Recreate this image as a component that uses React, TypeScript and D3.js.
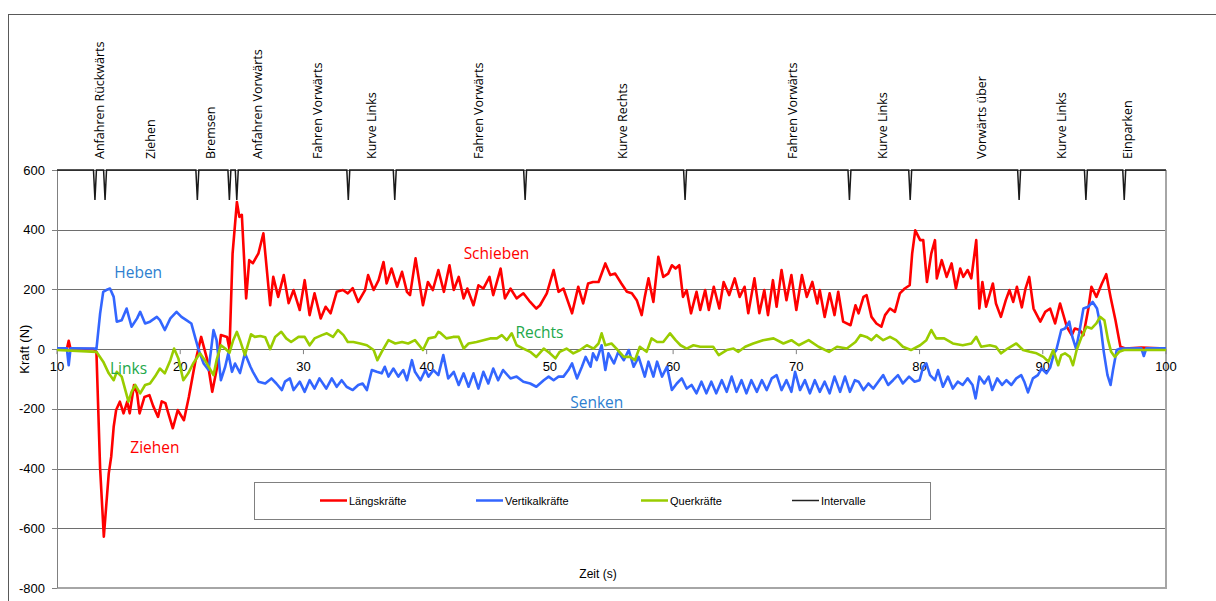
import React from "react";
import * as d3 from "d3";

// Zeit (s) / Kraft (N) readings per series
const laengskraefte: [number, number][] = [
  [10, 0], [10.8, 0], [10.95, 28], [11.1, 0], [13.0, 0], [13.2, -10], [13.5, -400], [13.8, -628],
  [14.2, -416], [14.4, -360], [14.6, -260], [14.8, -204], [15.1, -176], [15.4, -215], [15.7, -176],
  [15.9, -215], [16.25, -120], [16.5, -148], [16.7, -215], [17.1, -160], [17.5, -154], [17.8, -190],
  [18.2, -227], [18.5, -175], [18.8, -181], [19.0, -210], [19.4, -265], [19.8, -204], [20.3, -238],
  [20.7, -160], [21.2, -47], [21.7, 41], [22.2, -37], [22.6, -143], [23.0, -59], [23.3, 47],
  [23.8, 41], [24.0, 0], [24.25, 321], [24.6, 493], [24.8, 443], [25.0, 450], [25.35, 170],
  [25.6, 298], [25.9, 288], [26.35, 321], [26.75, 388], [27.3, 147], [27.55, 242], [27.95, 175],
  [28.4, 248], [28.8, 154], [29.2, 198], [29.7, 131], [30.1, 231], [30.5, 114], [30.9, 187],
  [31.4, 103], [31.8, 142], [32.2, 120], [32.7, 192], [33.2, 198], [33.6, 187], [34.0, 204],
  [34.45, 158], [35.0, 198], [35.25, 248], [35.7, 198], [36.1, 231], [36.5, 292], [36.75, 220],
  [37.15, 270], [37.6, 209], [38.0, 259], [38.4, 192], [38.65, 181], [39.1, 304], [39.7, 147],
  [40.1, 225], [40.5, 198], [40.95, 265], [41.4, 192], [41.85, 281], [42.2, 198], [42.6, 242],
  [43.0, 170], [43.3, 203], [43.8, 147], [44.2, 214], [44.6, 203], [45.1, 242], [45.4, 181],
  [46.0, 270], [46.35, 170], [46.8, 203], [47.3, 170], [47.85, 187], [48.4, 158], [48.9, 136],
  [49.2, 147], [49.75, 187], [50.3, 265], [50.7, 192], [51.1, 203], [51.8, 120], [52.3, 209],
  [52.7, 153], [53.1, 220], [53.5, 225], [53.95, 225], [54.5, 287], [54.9, 248], [55.3, 253],
  [55.8, 220], [56.25, 192], [56.65, 187], [57.05, 164], [57.45, 114], [57.7, 175], [58.0, 237],
  [58.4, 158], [58.8, 309], [59.2, 242], [59.6, 253], [59.9, 281], [60.2, 270], [60.5, 281],
  [60.8, 175], [61.1, 198], [61.45, 120], [61.9, 192], [62.2, 131], [62.6, 198], [62.9, 131],
  [63.3, 209], [63.75, 136], [64.1, 225], [64.55, 181], [65.0, 237], [65.4, 175], [65.8, 209],
  [66.1, 120], [66.6, 237], [67.0, 120], [67.4, 198], [67.7, 114], [68.1, 231], [68.4, 142],
  [68.8, 265], [69.2, 164], [69.6, 248], [70.0, 131], [70.45, 248], [70.85, 175], [71.3, 225],
  [71.7, 153], [71.9, 198], [72.3, 108], [72.7, 187], [73.1, 114], [73.4, 192], [73.8, 92],
  [74.4, 80], [74.8, 147], [75.05, 120], [75.45, 175], [75.7, 181], [76.1, 108], [76.5, 86],
  [76.9, 75], [77.2, 114], [77.6, 136], [78.0, 125], [78.4, 187], [78.8, 203], [79.2, 214],
  [79.4, 320], [79.65, 398], [80.05, 365], [80.3, 365], [80.6, 225], [80.95, 320], [81.25, 365],
  [81.4, 237], [81.8, 298], [82.2, 242], [82.6, 287], [82.95, 203], [83.3, 270], [83.55, 242],
  [83.9, 265], [84.2, 237], [84.6, 365], [84.85, 136], [85.1, 225], [85.4, 142], [85.95, 220],
  [86.2, 153], [86.6, 108], [87.0, 164], [87.3, 198], [87.6, 158], [87.9, 209], [88.3, 140],
  [88.6, 203], [88.9, 242], [89.25, 136], [89.8, 92], [90.2, 125], [90.6, 136], [91.0, 86],
  [91.4, 153], [91.95, 75], [92.35, 47], [92.6, 69], [93.0, 64], [93.3, 47], [93.7, 136],
  [93.95, 209], [94.35, 175], [94.8, 220], [95.15, 251], [95.5, 175], [95.9, 97], [96.3, 8],
  [96.7, 2], [98, 5], [100, 2],
];

const vertikalkraefte: [number, number][] = [
  [10, 3], [10.8, 3], [10.95, -54], [11.1, 3], [13.0, 2], [13.2, 0], [13.5, 120], [13.75, 192],
  [14.0, 198], [14.3, 203], [14.6, 175], [14.85, 92], [15.25, 97], [15.65, 136], [16.05, 75],
  [16.5, 103], [16.75, 125], [17.15, 86], [17.55, 92], [18.1, 108], [18.35, 97], [18.75, 64],
  [19.2, 103], [19.7, 125], [20.1, 108], [20.5, 97], [20.9, 86], [21.2, 41], [21.5, -3],
  [21.9, -48], [22.3, -70], [22.7, 64], [22.95, 30], [23.3, -104], [23.65, -59], [23.9, -14],
  [24.2, -76], [24.45, -48], [24.85, -80], [25.25, -14], [25.7, -59], [25.9, -76], [26.35, -109],
  [26.9, -115], [27.4, -98], [27.8, -115], [28.25, -137], [28.5, -109], [28.9, -98], [29.2, -137],
  [29.7, -109], [30.1, -143], [30.5, -104], [30.9, -132], [31.3, -98], [31.85, -132], [32.3, -98],
  [32.7, -126], [33.1, -104], [33.5, -126], [34.0, -137], [34.45, -120], [34.8, -115], [35.15, -137],
  [35.55, -70], [35.95, -76], [36.35, -81], [36.6, -59], [36.9, -92], [37.3, -65], [37.7, -92],
  [38.1, -70], [38.4, -104], [38.8, -37], [39.05, -76], [39.5, -104], [39.9, -70], [40.15, -92],
  [40.55, -70], [40.95, -87], [41.35, -20], [41.75, -98], [42.2, -76], [42.6, -120], [43.0, -81],
  [43.4, -126], [43.8, -81], [44.2, -132], [44.6, -76], [45.0, -115], [45.4, -65], [45.8, -104],
  [46.2, -70], [46.8, -98], [47.3, -92], [47.85, -109], [48.4, -115], [48.9, -126], [49.5, -104],
  [49.9, -92], [50.3, -104], [50.7, -92], [51.1, -92], [51.5, -70], [51.8, -48], [52.2, -98],
  [52.6, -59], [52.9, -26], [53.3, -59], [53.5, -14], [53.8, -37], [54.2, 13], [54.5, -70],
  [54.75, -14], [55.2, -48], [55.55, -9], [56.0, -37], [56.4, -3], [56.8, -59], [57.2, -26],
  [57.7, -92], [58.0, -42], [58.4, -92], [58.7, -42], [59.1, -92], [59.5, -59], [59.9, -137],
  [60.3, -115], [60.7, -98], [61.1, -132], [61.5, -120], [61.9, -148], [62.3, -109], [62.7, -148],
  [63.1, -109], [63.5, -148], [63.95, -104], [64.35, -143], [64.75, -92], [65.15, -143], [65.55, -104],
  [65.95, -148], [66.35, -104], [66.8, -143], [67.2, -104], [67.6, -137], [68.0, -98], [68.4, -87],
  [68.8, -137], [69.2, -104], [69.6, -143], [69.9, -76], [70.3, -137], [70.7, -104], [71.1, -148],
  [71.5, -104], [71.9, -143], [72.3, -109], [72.7, -148], [73.1, -92], [73.55, -143], [73.95, -92],
  [74.35, -143], [74.75, -104], [75.05, -109], [75.45, -137], [75.85, -115], [76.25, -132], [76.65, -109],
  [77.05, -87], [77.45, -120], [77.85, -104], [78.25, -87], [78.65, -115], [79.15, -92], [79.6, -109],
  [80.0, -104], [80.3, -59], [80.55, -48], [80.85, -87], [81.25, -104], [81.5, -70], [81.9, -126],
  [82.3, -92], [82.7, -132], [83.1, -109], [83.5, -120], [83.9, -98], [84.3, -120], [84.55, -165],
  [84.85, -92], [85.25, -115], [85.6, -92], [85.9, -137], [86.3, -98], [86.7, -120], [87.05, -104],
  [87.45, -120], [87.85, -98], [88.25, -87], [88.5, -109], [88.8, -145], [89.2, -98], [89.6, -87],
  [89.9, -65], [90.3, -81], [90.6, -62], [90.9, -15], [91.1, -3], [91.5, 64], [91.8, 69],
  [92.15, 92], [92.4, 41], [92.7, 2], [92.95, 53], [93.3, 136], [93.7, 142], [94.05, 158],
  [94.4, 136], [94.7, 75], [94.95, -9], [95.25, -87], [95.5, -120], [95.7, -70], [96.0, -3],
  [96.3, 2], [98.0, 3], [98.2, -23], [98.4, 3], [100, 3],
];

const querkraefte: [number, number][] = [
  [10, -3], [13.2, -9], [13.75, -42], [14.2, -81], [14.6, -104], [14.85, -76], [15.25, -92],
  [15.8, -176], [16.05, -143], [16.35, -120], [16.75, -148], [17.15, -120], [17.55, -115], [17.95, -92],
  [18.35, -65], [18.75, -81], [19.2, -37], [19.5, 2], [19.85, -31], [20.25, -104], [20.65, -81],
  [21.05, -48], [21.6, -14], [22.0, -37], [22.4, -65], [22.7, -87], [22.95, -37], [23.3, 13],
  [23.65, 2], [24.0, -12], [24.3, 30], [24.6, 58], [24.85, 30], [25.25, -20], [25.75, 50],
  [26.05, 41], [26.5, 44], [26.9, 40], [27.3, 0], [27.7, 41], [28.2, 58], [28.6, 36], [29.0, 24],
  [29.6, 41], [30.1, 41], [30.5, 13], [30.9, 36], [31.5, 47], [31.9, 53], [32.4, 41], [32.8, 64],
  [33.25, 47], [33.6, 24], [34.05, 24], [34.6, 19], [35.15, 13], [35.7, -3], [36.0, -37],
  [36.35, -9], [36.9, 30], [37.45, 19], [38.0, 24], [38.5, 19], [39.05, 30], [39.7, -3],
  [40.15, 36], [40.7, 41], [40.95, 58], [41.1, 55], [41.6, 36], [42.15, 41], [42.6, 41], [43.0, 2],
  [43.4, 19], [44.05, 24], [44.6, 30], [45.15, 36], [45.7, 36], [46.1, 47], [46.5, 30], [46.9, 53],
  [47.3, 13], [47.85, 2], [48.4, -9], [48.9, -26], [49.5, 2], [50.0, -14], [50.45, -31], [50.8, -9],
  [51.35, 2], [51.9, -14], [52.45, -3], [53.0, 13], [53.55, 2], [53.95, 19], [54.2, 53], [54.5, 13],
  [55.0, 19], [55.4, 2], [56.0, -26], [56.5, -26], [56.9, -37], [57.3, 8], [57.85, -9], [58.25, 36],
  [58.7, 24], [59.2, 24], [59.75, 53], [60.2, 30], [60.6, 13], [61.1, 2], [61.65, 13], [62.2, 8],
  [62.7, 8], [63.25, 8], [63.7, -20], [64.35, -3], [64.9, 2], [65.3, -9], [65.85, 8], [66.5, 19],
  [67.3, 30], [68.15, 36], [68.95, 19], [69.6, 30], [70.2, 13], [71.0, 30], [71.8, 8], [72.65, -9],
  [73.3, 8], [74.1, 2], [74.8, 24], [75.2, 47], [75.7, 41], [76.1, 30], [76.5, 47], [77.05, 30],
  [77.6, 41], [78.1, 30], [78.65, 8], [79.3, -3], [80.05, 13], [80.55, 30], [80.95, 64], [81.35, 36],
  [82.0, 36], [82.7, 19], [83.5, 13], [84.2, 19], [84.6, 41], [85.0, 8], [85.7, 13], [86.2, 8],
  [86.6, -14], [87.15, 2], [87.85, 19], [88.4, -3], [88.95, -9], [89.5, -14], [90.05, -26],
  [90.45, -42], [90.85, -3], [91.25, -54], [91.5, -20], [91.8, -14], [92.2, -26], [92.45, -54],
  [92.75, -3], [93.15, 41], [93.55, 75], [93.95, 69], [94.35, 86], [94.65, 108], [95.0, 97],
  [95.3, 30], [95.55, -9], [95.85, -26], [96.2, -9], [96.6, -3], [100, -3],
];

// interval boundaries (s) of the "Intervalle" trace
const intervalGrenzen = [13.08, 13.9, 21.39, 23.99, 24.59, 33.64, 37.41, 47.99, 60.97, 74.31, 79.24, 88.08, 93.5, 96.61];

const phasen = [
  { label: "Anfahren Rückwärts", t: 13.5 },
  { label: "Ziehen", t: 17.6 },
  { label: "Bremsen", t: 22.5 },
  { label: "Anfahren Vorwärts", t: 26.3 },
  { label: "Fahren Vorwärts", t: 31.2 },
  { label: "Kurve Links", t: 35.6 },
  { label: "Fahren Vorwärts", t: 44.25 },
  { label: "Kurve Rechts", t: 55.95 },
  { label: "Fahren Vorwärts", t: 69.75 },
  { label: "Kurve Links", t: 77.05 },
  { label: "Vorwärts über", t: 85.1 },
  { label: "Kurve Links", t: 91.6 },
  { label: "Einparken", t: 96.9 },
];

const yTicks = [600, 400, 200, 0, -200, -400, -600, -800];
const xTicks = [10, 20, 30, 40, 50, 60, 70, 80, 90, 100];

const legende = [
  { name: "Längskräfte", color: "#ff0000", x: 320 },
  { name: "Vertikalkräfte", color: "#3366ff", x: 476 },
  { name: "Querkräfte", color: "#99cc00", x: 641 },
  { name: "Intervalle", color: "#222222", x: 792 },
];

const notizen = [
  { text: "Heben", t: 14.65, v: 257, color: "#2e7fd0" },
  { text: "Schieben", t: 43.0, v: 320, color: "#ff0000" },
  { text: "Rechts", t: 47.2, v: 55, color: "#22a84a" },
  { text: "Links", t: 14.3, v: -65, color: "#22a84a" },
  { text: "Ziehen", t: 15.95, v: -330, color: "#ff0000" },
  { text: "Senken", t: 51.65, v: -180, color: "#2e7fd0" },
];

export default function App() {
  const width = 1216;
  const height = 601;
  const x = d3.scaleLinear().domain([10, 100]).range([57, 1166]);
  const y = d3.scaleLinear().domain([-800, 600]).range([588, 170]);

  const line = d3
    .line<[number, number]>()
    .x((d) => x(d[0]))
    .y((d) => y(d[1]));

  const intervalPts: [number, number][] = [[10, 600]];
  intervalGrenzen.forEach((b) => {
    intervalPts.push([b - 0.12, 600], [b, 500], [b + 0.12, 600]);
  });
  intervalPts.push([100, 600]);

  const axisFont = "'Liberation Sans', Arial, sans-serif";
  const labelFont = "'Open Sans', 'Noto Sans', sans-serif";

  return (
    <div style={{ position: "absolute", left: 0, top: 0 }}>
      <svg width={width} height={height} style={{ display: "block", background: "#fff" }}>
        {/* chart frame */}
        <line x1={8} x2={width} y1={14.5} y2={14.5} stroke="#595959" strokeWidth={1} />
        <line x1={8.5} x2={8.5} y1={14} y2={height} stroke="#595959" strokeWidth={1} />

        {/* gridlines */}
        {yTicks.filter((v) => v !== -800).map((v) => (
          <line key={v} x1={x(10)} x2={x(100)} y1={Math.round(y(v)) + 0.5} y2={Math.round(y(v)) + 0.5} stroke="#6e6e6e" strokeWidth={1} />
        ))}
        <line x1={x(10)} x2={x(100) + 1} y1={y(-800)} y2={y(-800)} stroke="#a6a6a6" strokeWidth={2} />
        <line x1={x(100)} x2={x(100)} y1={y(600)} y2={y(-800)} stroke="#a6a6a6" strokeWidth={2} />

        {/* y axis */}
        <line x1={57.5} x2={57.5} y1={y(600)} y2={y(-800)} stroke="#808080" strokeWidth={1} />
        {yTicks.map((v) => (
          <g key={v}>
            <line x1={52} x2={57} y1={Math.round(y(v)) + 0.5} y2={Math.round(y(v)) + 0.5} stroke="#808080" />
            <text x={45} y={y(v)} dy="0.35em" textAnchor="end" fontFamily={axisFont} fontSize={13} fill="#000">
              {v}
            </text>
          </g>
        ))}
        <text
          transform={`translate(29,${y(0)}) rotate(-90)`}
          textAnchor="middle"
          fontFamily={axisFont}
          fontSize={13}
          fill="#000"
        >
          Kraft (N)
        </text>

        {/* x axis on zero line */}
        {xTicks.map((t) => (
          <g key={t}>
            <line x1={x(t)} x2={x(t)} y1={y(0)} y2={y(0) + 5} stroke="#808080" />
            <text x={x(t)} y={y(0) + 17} dy="0.35em" textAnchor="middle" fontFamily={axisFont} fontSize={13} fill="#000">
              {t}
            </text>
          </g>
        ))}
        <text x={598} y={574} dy="0.35em" textAnchor="middle" fontFamily={axisFont} fontSize={12} fill="#000">
          Zeit (s)
        </text>

        {/* series */}
        <path d={line(laengskraefte) ?? ""} fill="none" stroke="#ff0000" strokeWidth={2.6} strokeLinejoin="round" />
        <path d={line(vertikalkraefte) ?? ""} fill="none" stroke="#3366ff" strokeWidth={2.6} strokeLinejoin="round" />
        <path d={line(querkraefte) ?? ""} fill="none" stroke="#99cc00" strokeWidth={2.6} strokeLinejoin="round" />
        <path d={line(intervalPts) ?? ""} fill="none" stroke="#1a1a1a" strokeWidth={1.5} />

        {/* phase labels */}
        {phasen.map((p, i) => (
          <text
            key={i}
            transform={`translate(${x(p.t) + 4},159) rotate(-90)`}
            textAnchor="start"
            fontFamily={labelFont}
            fontSize={12.5}
            fill="#000"
          >
            {p.label}
          </text>
        ))}

        {/* annotations */}
        {notizen.map((n) => (
          <text key={n.text} x={x(n.t)} y={y(n.v)} dy="0.35em" fontFamily={labelFont} fontSize={15.5} fill={n.color}>
            {n.text}
          </text>
        ))}

        {/* legend */}
        <rect x={254.5} y={482.5} width={676} height={37} fill="#fff" stroke="#808080" strokeWidth={1} />
        {legende.map((l) => (
          <g key={l.name}>
            <line x1={l.x} x2={l.x + 27} y1={500.5} y2={500.5} stroke={l.color} strokeWidth={l.name === "Intervalle" ? 1.5 : 2.5} />
            <text x={l.x + 29} y={501} dy="0.35em" fontFamily={axisFont} fontSize={11} fill="#000">
              {l.name}
            </text>
          </g>
        ))}
      </svg>
    </div>
  );
}
